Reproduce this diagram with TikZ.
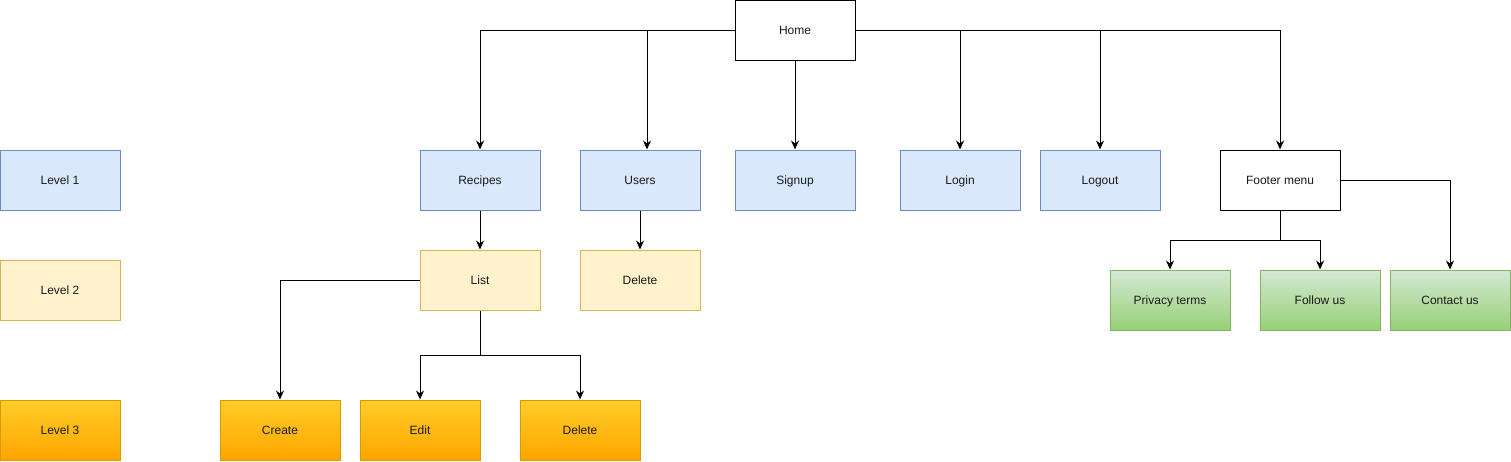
\documentclass[tikz,border=0pt]{standalone}
\usepackage{fontspec}
\setmainfont{Liberation Sans}
\usetikzlibrary{arrows.meta}
\definecolor{blueF}{HTML}{DAE8FC}
\definecolor{blueS}{HTML}{6C8EBF}
\definecolor{yelF}{HTML}{FFF2CC}
\definecolor{yelS}{HTML}{D6B656}
\definecolor{orT}{HTML}{FFCD28}
\definecolor{orB}{HTML}{FFA500}
\definecolor{orS}{HTML}{D79B00}
\definecolor{grT}{HTML}{D5E8D4}
\definecolor{grB}{HTML}{97D077}
\definecolor{grS}{HTML}{82B366}
\definecolor{txt}{HTML}{1A1A1A}
\tikzset{
  box/.style={rectangle, minimum width=120pt, minimum height=60pt, inner sep=0pt,
    line width=1pt, font=\fontsize{12pt}{14pt}\selectfont, text=txt,
    text height=8.5pt, text depth=0pt},
  plain/.style={box, draw=black, fill=white},
  lvlone/.style={box, draw=blueS, fill=blueF},
  lvltwo/.style={box, draw=yelS, fill=yelF},
  lvlthree/.style={box, draw=orS, top color=orT, bottom color=orB},
  greenbox/.style={box, draw=grS, top color=grT, bottom color=grB},
  conn/.style={line width=1pt, draw=black, -{Stealth[length=9pt,width=8pt]}},
  seg/.style={line width=1pt, draw=black},
}
\begin{document}
\begin{tikzpicture}[x=1pt,y=-1pt]
\useasboundingbox (0,0) rectangle (1511,461);
% nodes
\node[plain] (home) at (795,30.5) {Home};
\node[lvlone] (lv1) at (60,180) {Level 1};
\node[lvltwo] (lv2) at (60,290) {Level 2};
\node[lvlthree] (lv3) at (60,430) {Level 3};
\node[lvlone] (recipes) at (480,180) {Recipes};
\node[lvlone] (users) at (640,180) {Users};
\node[lvlone] (signup) at (795,180) {Signup};
\node[lvlone] (login) at (960,180) {Login};
\node[lvlone] (logout) at (1100,180) {Logout};
\node[plain] (footer) at (1280,180) {Footer menu};
\node[lvltwo] (list) at (480,280) {List};
\node[lvltwo] (udelete) at (640,280) {Delete};
\node[greenbox] (privacy) at (1170,300) {Privacy terms};
\node[greenbox] (follow) at (1320,300) {Follow us};
\node[greenbox] (contact) at (1450,300) {Contact us};
\node[lvlthree] (create) at (280,430) {Create};
\node[lvlthree] (edit) at (420,430) {Edit};
\node[lvlthree] (ldelete) at (580,430) {Delete};
% connectors
\draw[conn] (home.west) -| (recipes.north);
\draw[conn] (home.west) -| ([xshift=7pt]users.north);
\draw[conn] (home.south) -- (signup.north);
\draw[conn] (home.east) -| (login.north);
\draw[conn] (home.east) -| (logout.north);
\draw[conn] (home.east) -| (footer.north);
\draw[conn] (recipes.south) -- (list.north);
\draw[conn] (users.south) -- (udelete.north);
\draw[conn] (list.west) -| (create.north);
\coordinate (lj) at (480,355);
\draw[seg] (list.south) -- (lj);
\draw[conn] (lj) -| (edit.north);
\draw[conn] (lj) -| (ldelete.north);
\coordinate (fj) at (1280,240);
\draw[seg] (footer.south) -- (fj);
\draw[conn] (fj) -| (privacy.north);
\draw[conn] (fj) -| (follow.north);
\draw[conn] (footer.east) -| (contact.north);
\end{tikzpicture}
\end{document}
